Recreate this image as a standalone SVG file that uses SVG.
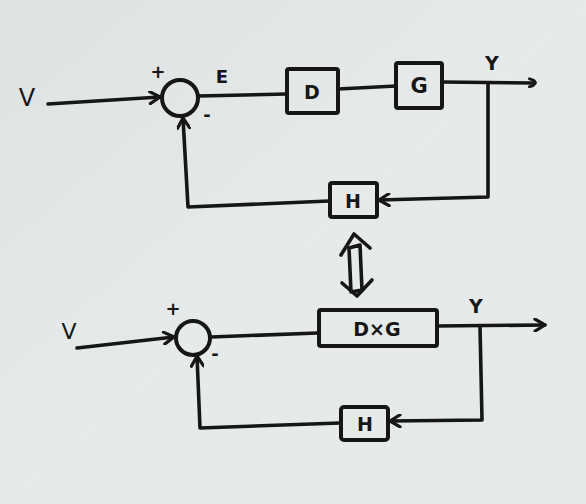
<svg xmlns="http://www.w3.org/2000/svg" width="586" height="504" viewBox="0 0 586 504">
<defs>
<linearGradient id="bg" x1="0" y1="0" x2="1" y2="1">
<stop offset="0" stop-color="#dde2e3"/>
<stop offset="0.5" stop-color="#e7eaeb"/>
<stop offset="1" stop-color="#e6e9ea"/>
</linearGradient>
<marker id="arr" viewBox="0 0 14 14" refX="12" refY="7" markerWidth="14" markerHeight="14" markerUnits="userSpaceOnUse" orient="auto">
<path d="M2,1 L12,7 L2,13" fill="none" stroke="#161616" stroke-width="3.2" stroke-linecap="round" stroke-linejoin="round"/>
</marker>
<marker id="arrs" viewBox="0 0 12 12" refX="9" refY="6" markerWidth="11" markerHeight="11" markerUnits="userSpaceOnUse" orient="auto">
<path d="M3,1.5 Q10,3 9,6 Q8,9 3,10" fill="none" stroke="#161616" stroke-width="3.2" stroke-linecap="round" stroke-linejoin="round"/>
</marker>
</defs>
<style>
.ln{fill:none;stroke:#161616;stroke-width:3.6;stroke-linecap:round;stroke-linejoin:round}
.bx{fill:none;stroke:#161616;stroke-width:4;stroke-linejoin:round}
.t{font-family:"DejaVu Sans","Liberation Sans",sans-serif;fill:#161616;font-weight:bold}
.tv{font-family:"DejaVu Sans","Liberation Sans",sans-serif;fill:#161616;font-weight:normal}
</style>
<rect x="0" y="0" width="586" height="504" fill="url(#bg)"/>

<g id="connectors">
<path class="ln" d="M48,104 L160,97" marker-end="url(#arr)"/>
<path class="ln" d="M198,96 L287,94"/>
<path class="ln" d="M338,89 L396,86"/>
<path class="ln" d="M442,82 L535,83" marker-end="url(#arrs)"/>
<path class="ln" d="M488,83 L488,197 L379,200" marker-end="url(#arr)"/>
<path class="ln" d="M329,201 L188,207 L183,118" marker-end="url(#arr)"/>
<path class="ln" d="M77,348 L174,337" marker-end="url(#arr)"/>
<path class="ln" d="M211,337 L318,333"/>
<path class="ln" d="M437,326 L545,325" marker-end="url(#arr)"/>
<path class="ln" d="M480,326 L482,420 L390,421" marker-end="url(#arr)"/>
<path class="ln" d="M340,423 L200,428 L197,356" marker-end="url(#arr)"/>
<path class="ln" d="M341,255 L354,234 L370,248"/>
<path class="ln" d="M342,283 L357,296 L372,280"/>
<path class="ln" d="M349,248 L360,245 L362,290 L351,292 Z"/>
</g>

<g id="sum1">
<circle class="bx" cx="180" cy="98" r="18"/>
<text class="t" x="158" y="78" font-size="18" text-anchor="middle">+</text>
<text class="t" x="207" y="121" font-size="18" text-anchor="middle">-</text>
</g>
<g id="D">
<rect class="bx" x="287" y="69" width="51" height="44" rx="2"/>
<text class="t" x="312" y="99" font-size="19" text-anchor="middle">D</text>
</g>
<g id="G">
<rect class="bx" x="396" y="63" width="46" height="45" rx="2"/>
<text class="t" x="419" y="93" font-size="21" text-anchor="middle">G</text>
</g>
<g id="H1">
<rect class="bx" x="330" y="183" width="47" height="34" rx="2"/>
<text class="t" x="353" y="208" font-size="19" text-anchor="middle">H</text>
</g>
<g id="labels1">
<text class="tv" x="27" y="106" font-size="24" text-anchor="middle">V</text>
<text class="t" x="222" y="83" font-size="18" text-anchor="middle">E</text>
<text class="t" x="492" y="70" font-size="19" text-anchor="middle">Y</text>
</g>

<g id="sum2">
<circle class="bx" cx="193" cy="338" r="17"/>
<text class="t" x="173" y="315" font-size="18" text-anchor="middle">+</text>
<text class="t" x="215" y="360" font-size="18" text-anchor="middle">-</text>
</g>
<g id="DxG">
<rect class="bx" x="319" y="310" width="118" height="36" rx="2"/>
<text class="t" x="377" y="336" font-size="19" text-anchor="middle">D×G</text>
</g>
<g id="H2">
<rect class="bx" x="341" y="407" width="47" height="33" rx="3"/>
<text class="t" x="365" y="431" font-size="19" text-anchor="middle">H</text>
</g>
<g id="labels2">
<text class="tv" x="69" y="339" font-size="22" text-anchor="middle">V</text>
<text class="t" x="476" y="313" font-size="19" text-anchor="middle">Y</text>
</g>
</svg>
